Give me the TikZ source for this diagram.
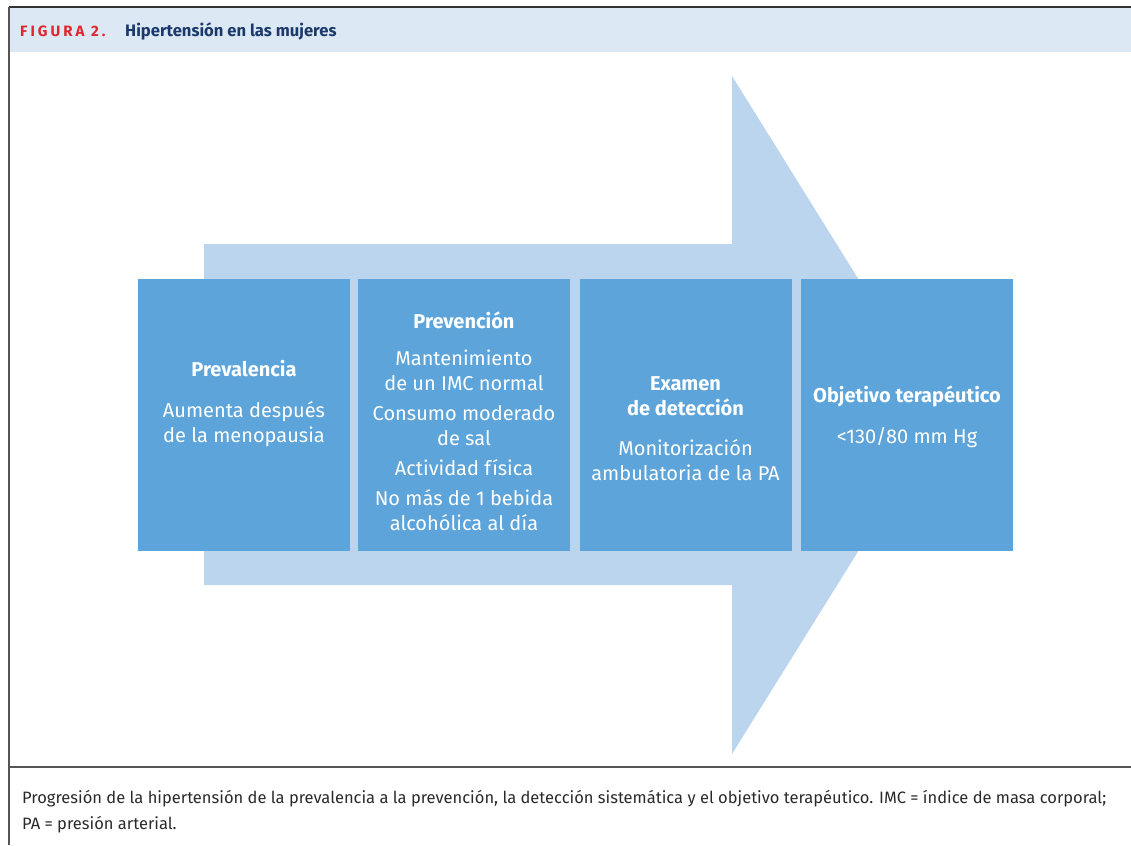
\documentclass[tikz,border=0pt]{standalone}
\usepackage{fontspec}
\setmainfont{Fira Sans}
\definecolor{hdrbg}{HTML}{DCE8F4}
\definecolor{arrowbg}{HTML}{BBD5EE}
\definecolor{boxbg}{HTML}{5CA4D9}
\definecolor{figred}{HTML}{E0262E}
\definecolor{navy}{HTML}{1B3A6B}
\definecolor{framegray}{HTML}{555555}
\definecolor{captxt}{HTML}{2A2A2A}
\tikzset{
  stagebox/.style={fill=boxbg, draw=none, minimum width=212pt, minimum height=272pt, anchor=north west, inner sep=0pt},
  stagetext/.style={text=white, align=center, font=\fontsize{20}{25}\selectfont, inner sep=0pt},
  frameline/.style={draw=framegray, line width=1.6pt}
}
\begin{document}
\begin{tikzpicture}[x=1pt,y=-1pt]
\useasboundingbox (0,0) rectangle (1131,845);
% header
\fill[hdrbg] (9,7) rectangle (1131,52);
\coordinate (tl) at (9,7);
\coordinate (tr) at (1131,7);
\coordinate (bl) at (9,845);
\coordinate (sl) at (9,767);
\coordinate (sr) at (1131,767);
\draw[frameline, draw=black!80] (tl) -- (tr);
\draw[frameline] (tl) -- (bl);
\draw[frameline] (sl) -- (sr);
\node[anchor=base west, inner sep=0pt, text=figred, font=\bfseries\fontsize{15}{17}\selectfont] (fig) at (20,36.5) {\addfontfeature{LetterSpace=20}FIGURA 2.};
\node[anchor=base west, inner sep=0pt, text=navy, font=\bfseries\fontsize{16.6}{19}\selectfont] (title) at (125,36.5) {Hipertensión en las mujeres};
% big arrow
\fill[arrowbg] (204,244) -- (732,244) -- (732,76) -- (943,415) -- (732,754) -- (732,585) -- (204,585) -- cycle;
% boxes
\node[stagebox] (b1) at (138,279) {};
\node[stagebox] (b2) at (358,279) {};
\node[stagebox] (b3) at (580,279) {};
\node[stagebox] (b4) at (801,279) {};
\node[stagetext] (t1) at (244,404) {\textbf{Prevalencia}\\[16pt]Aumenta después\\de la menopausia};
\node[stagetext] (t2) at (464,421) {\textbf{Prevención}\\[12pt]Mantenimiento\\de un IMC normal\\[5pt]Consumo moderado\\de sal\\[5pt]Actividad física\\[5pt]No más de 1 bebida\\alcohólica al día};
\node[stagetext] (t3) at (685.5,429) {\textbf{Examen}\\\textbf{de detección}\\[15pt]Monitorización\\ambulatoria de la PA};
\node[stagetext] (t4) at (907,416.5) {\textbf{Objetivo terapéutico}\\[16pt]<130/80 mm Hg};
% caption
\node[anchor=base west, inner sep=0pt, text=captxt, align=left, font=\fontsize{16.5}{26}\selectfont] (cap) at (22,829) {Progresión de la hipertensión de la prevalencia a la prevención, la detección sistemática y el objetivo terapéutico. IMC = índice de masa corporal;\\PA = presión arterial.};
\end{tikzpicture}
\end{document}
